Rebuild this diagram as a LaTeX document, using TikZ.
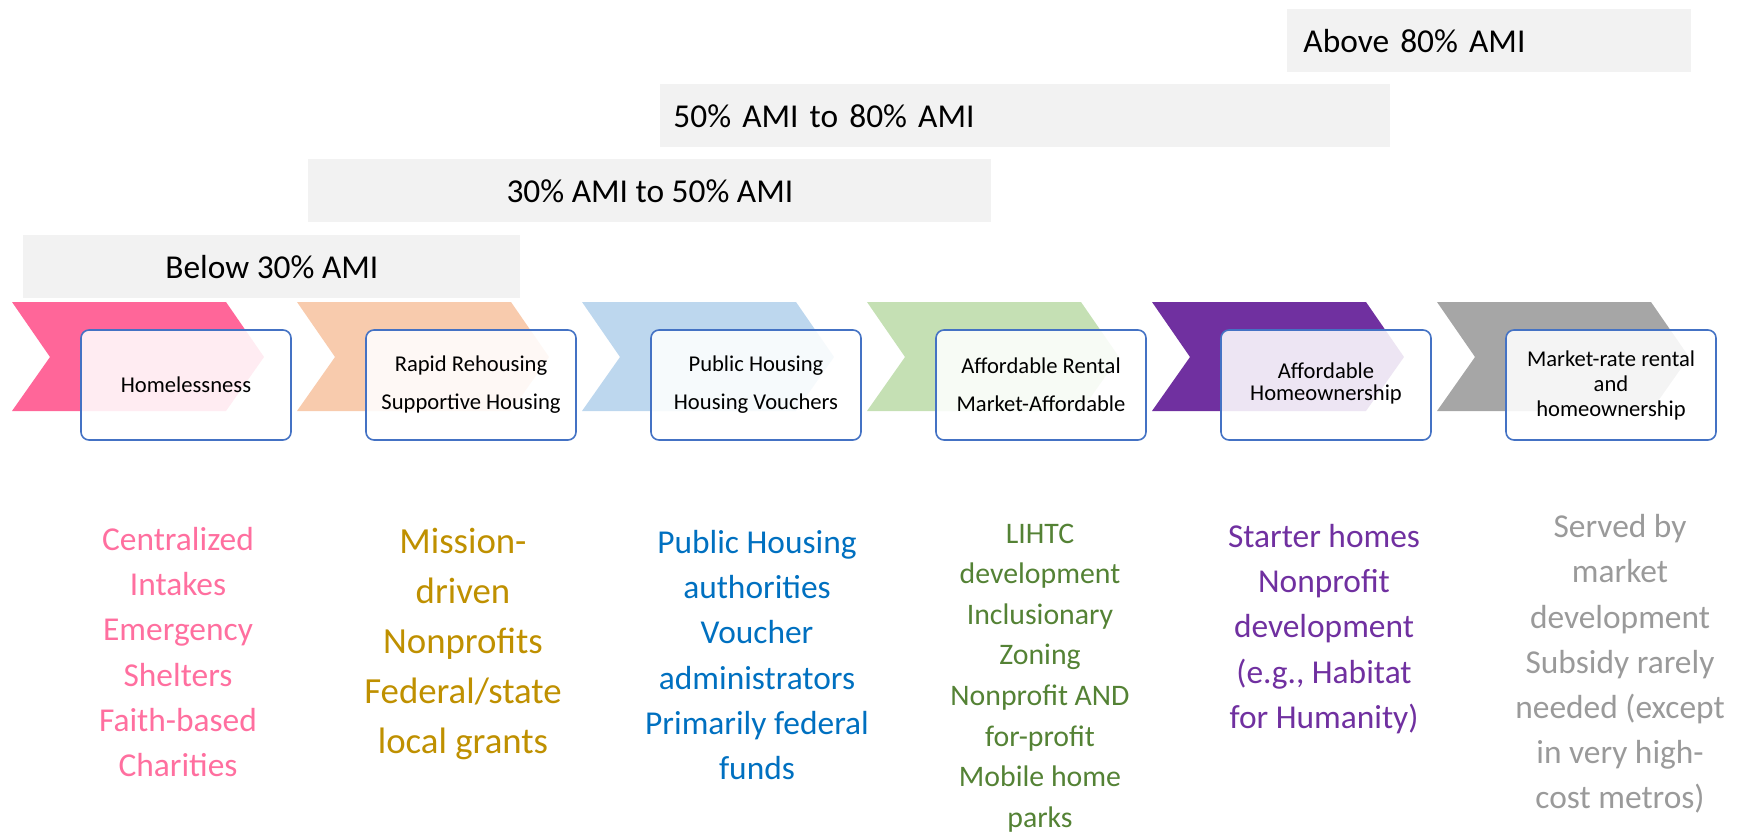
\documentclass[tikz,border=0pt]{standalone}
\usepackage{fontspec}
\setmainfont{Carlito}
\usepackage{xcolor}
\usetikzlibrary{positioning}

\definecolor{bandgray}{HTML}{F2F2F2}
\definecolor{boxblue}{HTML}{4472C4}
\definecolor{chevPink}{HTML}{FF6699}
\definecolor{chevPeach}{HTML}{F8CBAD}
\definecolor{chevBlue}{HTML}{BDD7EE}
\definecolor{chevGreen}{HTML}{C5E0B4}
\definecolor{chevPurple}{HTML}{7030A0}
\definecolor{chevGray}{HTML}{A6A6A6}
\definecolor{txtPink}{HTML}{FF6F9F}
\definecolor{txtGold}{HTML}{BF9000}
\definecolor{txtBlue}{HTML}{0070C0}
\definecolor{txtGreen}{HTML}{548235}
\definecolor{txtPurple}{HTML}{7030A0}
\definecolor{txtGray}{HTML}{9A9A9A}

\tikzset{
  band/.style={fill=bandgray, inner sep=0pt, minimum height=31.5pt,
    font=\fontsize{16.7}{20}\selectfont},
  stagebox/.style={draw=boxblue, line width=0.8pt, rounded corners=4pt,
    fill=white, fill opacity=0.88, text opacity=1, inner sep=0pt,
    minimum width=105pt, minimum height=55pt, align=center,
    font=\fontsize{11.3}{12.5}\selectfont},
  whotxt/.style={align=center, inner sep=0pt,
    font=\fontsize{16.7}{22.6}\selectfont}
}

\begin{document}
\begin{tikzpicture}[x=0.5pt, y=-0.5pt]
    \useasboundingbox (0,0) rectangle (1740,835);

    % Income bands
    \node[band, anchor=north west, minimum width=248.5pt] (below30) at (23,235) {Below 30\% AMI};
    \node[band, anchor=north west, minimum width=341.5pt] (ami30to50) at (308,159) {30\% AMI to 50\% AMI};
    \node[band, anchor=north west, text width=352pt, inner xsep=6.5pt, align=left] (ami50to80) at (660,84) {50\% AMI to 80\% AMI};
    \node[band, anchor=north west, text width=186pt, inner xsep=8pt, align=left] (above80) at (1287,9) {Above 80\% AMI};

    % Chevrons
    \fill[chevPink, shift={(12,0)}] (0,302) -- (214,302) -- (252,357) -- (214,411) -- (0,411) -- (38,357) -- cycle;
    \fill[chevPeach, shift={(297,0)}] (0,302) -- (214,302) -- (252,357) -- (214,411) -- (0,411) -- (38,357) -- cycle;
    \fill[chevBlue, shift={(582,0)}] (0,302) -- (214,302) -- (252,357) -- (214,411) -- (0,411) -- (38,357) -- cycle;
    \fill[chevGreen, shift={(867,0)}] (0,302) -- (214,302) -- (252,357) -- (214,411) -- (0,411) -- (38,357) -- cycle;
    \fill[chevPurple, shift={(1152,0)}] (0,302) -- (214,302) -- (252,357) -- (214,411) -- (0,411) -- (38,357) -- cycle;
    \fill[chevGray, shift={(1437,0)}] (0,302) -- (214,302) -- (252,357) -- (214,411) -- (0,411) -- (38,357) -- cycle;

    % Stage boxes
    \node[stagebox] (homeless) at (186,385) {Homelessness};
    \node[stagebox] (rapid) at (471,385) {Rapid Rehousing\\[6.5pt]Supportive Housing};
    \node[stagebox] (public) at (756,385) {Public Housing\\[6.5pt]Housing Vouchers};
    \node[stagebox] (afford) at (1041,385) {Affordable Rental\\[6.5pt]Market-Affordable};
    \node[stagebox] (homeown) at (1326,385) {\raisebox{3pt}{\shortstack{Affordable\\Homeownership}}};
    \node[stagebox] (market) at (1611,385) {Market-rate rental\\and\\homeownership};

    % Who serves each stage
    \node[whotxt, text=txtPink] (homelessWho) at (178,652) {Centralized\\Intakes\\Emergency\\Shelters\\Faith-based\\Charities};
    \node[whotxt, text=txtGold, font=\fontsize{18.4}{25}\selectfont] (rapidWho) at (463,644) {Mission-\\driven\\Nonprofits\\Federal/state\\local grants};
    \node[whotxt, text=txtBlue] (publicWho) at (757,655) {Public Housing\\authorities\\Voucher\\administrators\\Primarily federal\\funds};
    \node[whotxt, text=txtGreen, font=\fontsize{14.9}{20.3}\selectfont] (affordWho) at (1040,678) {LIHTC\\development\\Inclusionary\\Zoning\\Nonprofit AND\\for-profit\\Mobile home\\parks};
    \node[whotxt, text=txtPurple] (homeownWho) at (1324,629) {Starter homes\\Nonprofit\\development\\(e.g., Habitat\\for Humanity)};
    \node[whotxt, text=txtGray] (marketWho) at (1620,664) {Served by\\market\\development\\Subsidy rarely\\needed (except\\in very high-\\cost metros)};
\end{tikzpicture}
\end{document}
